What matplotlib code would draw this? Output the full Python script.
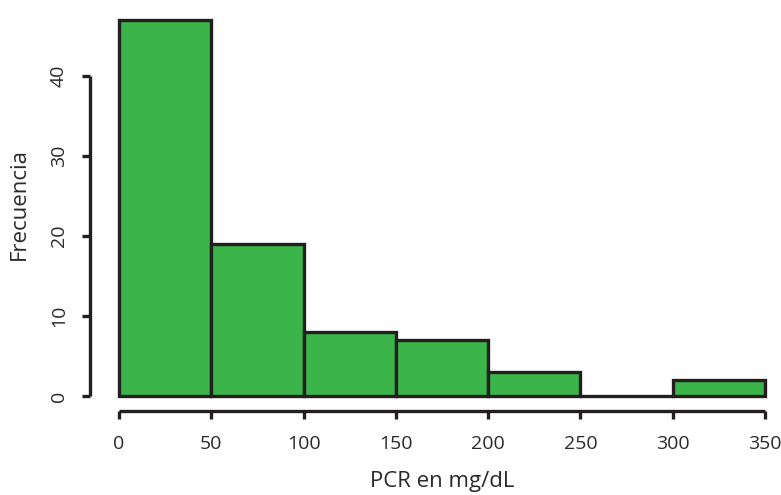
import matplotlib
matplotlib.use("Agg")
import matplotlib.pyplot as plt
import numpy as np

plt.rcParams['font.family'] = ['Open Sans', 'DejaVu Sans']

bin_edges = [0, 50, 100, 150, 200, 250, 300, 350]
counts = [47, 19, 8, 7, 3, 0, 2]
xticks = [0, 50, 100, 150, 200, 250, 300, 350]
yticks = [0, 10, 20, 30, 40]

dark = '#231F20'
green = '#3BB44A'
textc = '#2a2a2a'

fig = plt.figure(figsize=(7.81, 4.95), dpi=100)
ax = fig.add_axes([119/781, 99/495, 646/781, 384/495])

widths = np.diff(bin_edges)
ax.bar(bin_edges[:-1], counts, width=widths, align='edge', color=green,
       edgecolor=dark, linewidth=2.4, clip_on=False)

ax.set_xlim(0, 350)
ax.set_ylim(0, 48)

for s in ['top', 'right']:
    ax.spines[s].set_visible(False)
ax.spines['left'].set_position(('outward', 29 * 0.72))
ax.spines['bottom'].set_position(('outward', 15 * 0.72))
ax.spines['left'].set_bounds(0, 40)
ax.spines['bottom'].set_bounds(0, 350)
for s in ['left', 'bottom']:
    ax.spines[s].set_linewidth(2.4)
    ax.spines[s].set_color(dark)
    ax.spines[s].set_capstyle('butt')

ax.set_xticks(xticks)
ax.set_yticks(yticks)
ax.set_yticklabels([str(v) for v in yticks], rotation=90, va='center')
ax.tick_params(axis='both', length=6, width=2.4, color=dark, labelsize=14,
               labelcolor=textc)
ax.tick_params(axis='x', pad=11)
ax.tick_params(axis='y', pad=10)

ax.set_xlabel('PCR en mg/dL', fontsize=16, color=textc, labelpad=13)
ax.set_ylabel('Frecuencia', fontsize=16, color=textc, labelpad=14)

fig.savefig('out.png', dpi=100)
